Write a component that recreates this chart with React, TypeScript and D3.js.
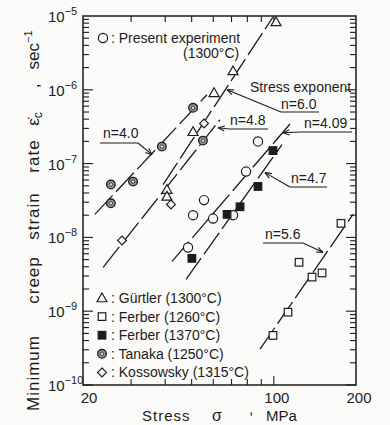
import React, { useEffect, useRef } from 'react';
import * as d3 from 'd3';

// creep data (stress in MPa, rate in 1/s)
const presentStress = [48.5, 50.6, 55.5, 59.9, 70.9, 79.1, 87.5];
const presentRate = [7.3e-9, 2.0e-8, 3.2e-8, 1.8e-8, 2.0e-8, 7.8e-8, 2.0e-7];
const gurtlerStress = [40.6, 40.6, 50.6, 60.4, 70.9, 101.9];
const gurtlerRate = [4.45e-8, 3.6e-8, 2.7e-7, 9.1e-7, 1.8e-6, 8.3e-6];
const ferber1260Stress = [99.3, 112.7, 123.7, 138, 150.2, 176.2];
const ferber1260Rate = [4.7e-10, 9.7e-10, 4.6e-9, 2.9e-9, 3.3e-9, 1.55e-8];
const ferber1370Stress = [50.1, 67.4, 75.2, 87.5, 99.3];
const ferber1370Rate = [5.2e-9, 2.05e-8, 2.6e-8, 4.9e-8, 1.5e-7];
const tanakaStress = [25.3, 25.3, 30.5, 38.9, 50.6, 55.0];
const tanakaRate = [5.2e-8, 2.9e-8, 5.7e-8, 1.7e-7, 5.7e-7, 2.05e-7];
const kossowskyStress = [27.8, 42.0, 55.5];
const kossowskyRate = [9.1e-9, 2.8e-8, 3.5e-7];

// fitted power-law lines (end points) and their stress exponents
const fitLabels = ['n=4.0', 'n=6.0', 'n=4.8', 'n=4.09', 'n=4.7', 'n=5.6'];
const fitStress = [[22.1, 56.9], [39.3, 99.3], [23.7, 63.5], [42.4, 116.6], [47.7, 107.2], [89.0, 195]];
const fitRate = [[2.05e-8, 8.56e-7], [5.2e-8, 9.69e-6], [3.93e-9, 3.93e-7], [4.74e-9, 3.7e-7], [2.7e-9, 1.81e-7], [3.06e-10, 2.05e-8]];
const labelTipStress = [35.8, 67.4, 62.5, 108, 92.8, 151.4];
const labelTipRate = [1.32e-7, 1e-6, 3.06e-7, 2.62e-7, 7.55e-8, 6.27e-9];

const xTickLabels = [20, 100, 200];
const yDecades = [-5, -6, -7, -8, -9, -10];
const legendNames = ['Gürtler  (1300°C)', 'Ferber  (1260°C)', 'Ferber  (1370°C)', 'Tanaka  (1250°C)', 'Kossowsky  (1315°C)'];
const legendSymbols = ['triangle', 'square', 'filled', 'tanaka', 'diamond'];

// label layout in pixels: text x, baseline, elbow x/y, underline end x
const labelLayout = [
  { tx: 103, ty: 138, ex: 138, ey: 143, ux: 100 },
  { tx: 281, ty: 109, ex: 281, ey: 112, ux: 319 },
  { tx: 230, ty: 125, ex: 229, ey: 129, ux: 268 },
  { tx: 304, ty: 128, ex: 300, ey: 132, ux: 352 },
  { tx: 291, ty: 183, ex: 290, ey: 187, ux: 327 },
  { tx: 265, ty: 239, ex: 303, ey: 243, ux: 263 },
];

const INK = '#1c1c1c';
const PAPER = '#fbfbf9';
const FONT = '"Liberation Sans", Arial, sans-serif';

const App: React.FC = () => {
  const svgRef = useRef<SVGSVGElement>(null);

  useEffect(() => {
    if (!svgRef.current) return;
    const width = 390;
    const height = 425;
    const left = 83, right = 356, top = 16, bottom = 385;

    const svg = d3.select(svgRef.current);
    svg.selectAll('*').remove();
    svg.attr('width', width).attr('height', height);

    svg.append('rect').attr('width', width).attr('height', height).attr('fill', PAPER);

    const x = d3.scaleLog().domain([20, 200]).range([left, right]);
    const y = d3.scaleLog().domain([1e-10, 1e-5]).range([bottom, top]);

    // frame
    svg.append('rect')
      .attr('x', left).attr('y', top)
      .attr('width', right - left).attr('height', bottom - top)
      .attr('fill', 'none').attr('stroke', INK).attr('stroke-width', 1.5);

    const ticks = svg.append('g').attr('stroke', INK).attr('stroke-width', 1.1);
    // y ticks, both sides, pointing in
    for (let d = -10; d < -5; d++) {
      for (let k = 1; k <= 9; k++) {
        const v = k * Math.pow(10, d);
        const len = k === 1 ? 10 : 6;
        const py = y(v);
        ticks.append('line').attr('x1', left).attr('x2', left + len).attr('y1', py).attr('y2', py);
        ticks.append('line').attr('x1', right).attr('x2', right - len).attr('y1', py).attr('y2', py);
      }
    }
    // x ticks, bottom and top
    d3.range(30, 101, 10).forEach((v) => {
      const px = x(v);
      const len = v === 100 ? 9 : 6;
      ticks.append('line').attr('x1', px).attr('x2', px).attr('y1', bottom).attr('y2', bottom - len);
      ticks.append('line').attr('x1', px).attr('x2', px).attr('y1', top).attr('y2', top + len);
    });

    // tick labels
    const yl = svg.append('g').attr('font-family', FONT).attr('fill', INK);
    yDecades.forEach((d) => {
      const t = yl.append('text').attr('x', 48).attr('y', y(Math.pow(10, d)) + 6).attr('font-size', 15);
      t.append('tspan').text('10');
      t.append('tspan').attr('dy', -7).attr('font-size', 11).text(`−${-d}`);
    });
    xTickLabels.forEach((v) => {
      svg.append('text')
        .attr('x', x(v) + (v === 20 ? 6 : 3)).attr('y', 403)
        .attr('text-anchor', 'middle').attr('font-family', FONT).attr('font-size', 15)
        .attr('fill', INK).text(String(v));
    });

    // axis titles
    const xt = svg.append('g').attr('font-family', FONT).attr('font-size', 15).attr('fill', INK);
    xt.append('text').attr('x', 142).attr('y', 421).attr('letter-spacing', 1).text('Stress');
    xt.append('text').attr('x', 212).attr('y', 421).attr('font-size', 16).text('σ');
    xt.append('text').attr('x', 249).attr('y', 414).text(',');
    xt.append('text').attr('x', 266).attr('y', 421).text('MPa');

    const yt = svg.append('g').attr('font-family', FONT).attr('font-size', 17).attr('fill', INK)
      .attr('text-anchor', 'middle');
    const yWords: [string, number][] = [['Minimum', 373], ['creep', 280], ['strain', 216], ['rate', 156]];
    yWords.forEach(([w, c]) => {
      yt.append('text').attr('transform', `translate(39,${c}) rotate(-90)`).attr('letter-spacing', 1).text(w);
    });
    const eps = yt.append('text').attr('transform', 'translate(39,119) rotate(-90)');
    eps.append('tspan').text('ε̇');
    eps.append('tspan').attr('font-size', 12).attr('dy', 3).text('c');
    yt.append('text').attr('transform', 'translate(39,86) rotate(-90)').text(',');
    const sec = yt.append('text').attr('transform', 'translate(39,50) rotate(-90)');
    sec.append('tspan').text('sec');
    sec.append('tspan').attr('font-size', 11).attr('dy', -7).text('−1');

    // fit lines
    const line = d3.line<[number, number]>().x((d) => x(d[0])).y((d) => y(d[1]));
    fitStress.forEach((s, i) => {
      const pts: [number, number][] = [[s[0], fitRate[i][0]], [s[1], fitRate[i][1]]];
      svg.append('path').attr('d', line(pts) || '')
        .attr('fill', 'none').attr('stroke', INK).attr('stroke-width', 1.3)
        .attr('stroke-dasharray', '26,5');
    });

    // markers
    const drawMarker = (g: d3.Selection<SVGGElement, unknown, null, undefined>, kind: string, px: number, py: number) => {
      if (kind === 'circle') {
        g.append('circle').attr('cx', px).attr('cy', py).attr('r', 4.6).attr('fill', PAPER).attr('stroke', INK).attr('stroke-width', 1.2);
      } else if (kind === 'tanaka') {
        g.append('circle').attr('cx', px).attr('cy', py).attr('r', 4.3).attr('fill', '#9a9a9a').attr('stroke', INK).attr('stroke-width', 1.3);
        g.append('circle').attr('cx', px).attr('cy', py).attr('r', 1.8).attr('fill', '#dcdcdc').attr('stroke', INK).attr('stroke-width', 0.8);
      } else if (kind === 'triangle') {
        const s = 5;
        g.append('path').attr('d', `M${px},${py - s}L${px + s},${py + s * 0.75}L${px - s},${py + s * 0.75}Z`)
          .attr('fill', PAPER).attr('stroke', INK).attr('stroke-width', 1.2);
      } else if (kind === 'square' || kind === 'filled') {
        g.append('rect').attr('x', px - 3.8).attr('y', py - 3.8).attr('width', 7.6).attr('height', 7.6)
          .attr('fill', kind === 'filled' ? INK : PAPER).attr('stroke', INK).attr('stroke-width', 1.2);
      } else if (kind === 'diamond') {
        const s = 4.4;
        g.append('path').attr('d', `M${px},${py - s}L${px + s},${py}L${px},${py + s}L${px - s},${py}Z`)
          .attr('fill', PAPER).attr('stroke', INK).attr('stroke-width', 1.2);
      }
    };

    const marks = svg.append('g');
    const series: [string, number[], number[]][] = [
      ['circle', presentStress, presentRate],
      ['triangle', gurtlerStress, gurtlerRate],
      ['square', ferber1260Stress, ferber1260Rate],
      ['filled', ferber1370Stress, ferber1370Rate],
      ['tanaka', tanakaStress, tanakaRate],
      ['diamond', kossowskyStress, kossowskyRate],
    ];
    series.forEach(([kind, xs, ys]) => {
      xs.forEach((v, i) => drawMarker(marks, kind, x(v), y(ys[i])));
    });

    // exponent labels with leaders and arrows
    const ann = svg.append('g').attr('stroke', INK).attr('stroke-width', 1.1).attr('fill', 'none');
    fitLabels.forEach((lab, i) => {
      const L = labelLayout[i];
      const tx = x(labelTipStress[i]);
      const ty = y(labelTipRate[i]);
      ann.append('line').attr('x1', L.ux).attr('x2', L.ex).attr('y1', L.ey).attr('y2', L.ey);
      ann.append('line').attr('x1', L.ex).attr('y1', L.ey).attr('x2', tx).attr('y2', ty);
      const ang = Math.atan2(L.ey - ty, L.ex - tx);
      [0.38, -0.38].forEach((da) => {
        ann.append('line').attr('x1', tx).attr('y1', ty)
          .attr('x2', tx + 7 * Math.cos(ang + da)).attr('y2', ty + 7 * Math.sin(ang + da));
      });
      svg.append('text').attr('x', L.tx).attr('y', L.ty)
        .attr('font-family', FONT).attr('font-size', 14).attr('fill', INK).text(lab);
    });

    svg.append('text').attr('x', 250).attr('y', 92)
      .attr('font-family', FONT).attr('font-size', 14).attr('fill', INK)
      .text('Stress  exponent');

    // legends
    const lg = svg.append('g');
    drawMarker(lg, 'circle', 103, 38);
    lg.append('text').attr('x', 111).attr('y', 43).attr('font-family', FONT).attr('font-size', 14)
      .attr('fill', INK).text(': Present  experiment');
    lg.append('text').attr('x', 183).attr('y', 58).attr('font-family', FONT).attr('font-size', 14)
      .attr('fill', INK).text('(1300°C)');

    legendNames.forEach((name, i) => {
      const cy = 298 + i * 18.6;
      drawMarker(lg, legendSymbols[i], 102, cy);
      lg.append('text').attr('x', 111).attr('y', cy + 5).attr('font-family', FONT).attr('font-size', 14)
        .attr('fill', INK).text(': ' + name);
    });
  }, []);

  return <svg ref={svgRef} style={{ position: 'absolute', left: 0, top: 0 }} />;
};

export default App;
